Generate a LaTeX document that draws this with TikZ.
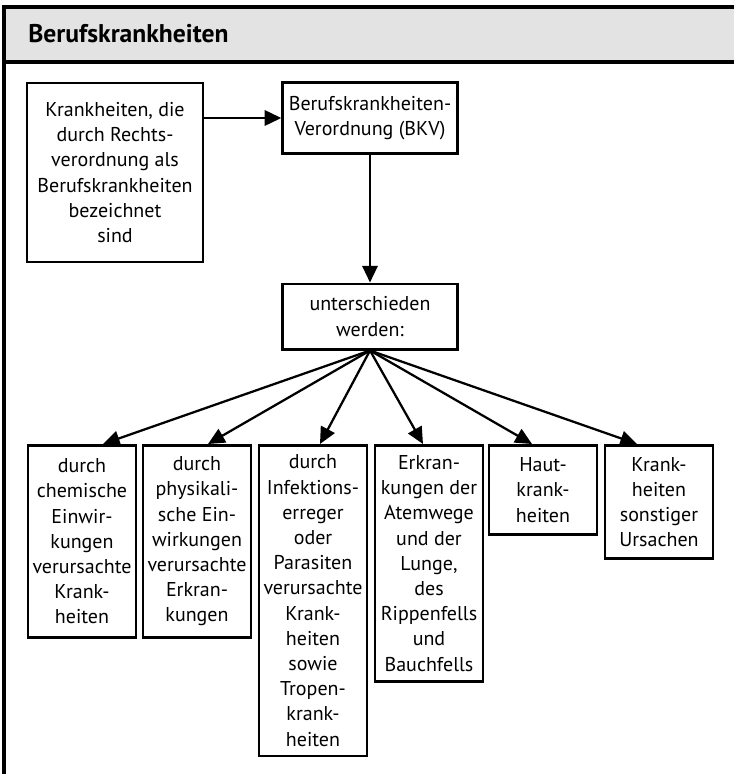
\documentclass[tikz,border=0pt]{standalone}
\usepackage{fontspec}
\setmainfont{PT Sans}
\usetikzlibrary{arrows.meta}

\begin{document}
\begin{tikzpicture}[x=.75pt,y=-.75pt,
    box/.style={draw,line width=2pt,align=center,inner xsep=2pt,
        font=\fontsize{15}{18.9}\selectfont},
    smallbox/.style={box,minimum width=81pt,anchor=north},
    arr/.style={line width=1.7pt,-{Triangle[length=12.5pt,width=11.5pt]}},
]

    \useasboundingbox (0,0) rectangle (734,774);

    % header
    \fill[black!11] (4,7) rectangle (734,62);
    \draw[line width=2.3pt] (4,774) -- (4,7) -- (734,7);
    \draw[line width=2.3pt] (4,62) -- (734,62);
    \node [anchor=base west,inner sep=0pt,font=\fontsize{19.2}{23}\selectfont\bfseries]
        (titel) at (28,43) {Berufskrankheiten};

    % top row
    \node [box,minimum width=132pt,minimum height=134pt] (krank) at (115,172.5)
        {Krankheiten, die\\durch Rechts-\\verordnung als\\Berufskrankheiten\\bezeichnet\\sind};
    \node [box,minimum width=131pt,minimum height=53pt] (bkv) at (370,118)
        {Berufskrankheiten-\\Verordnung (BKV)};
    \node [box,minimum width=131pt,minimum height=49pt] (unter) at (370,316.5)
        {unterschieden\\werden:};

    % bottom row
    \node [smallbox,minimum height=144pt] (chem) at (82,444)
        {durch\\chemische\\Einwir-\\kungen\\verursachte\\Krank-\\heiten};
    \node [smallbox,minimum height=144pt] (phys) at (197,444)
        {durch\\physikali-\\sche Ein-\\wirkungen\\verursachte\\Erkran-\\kungen};
    \node [smallbox,minimum height=233pt] (infekt) at (313,444)
        {durch\\Infektions-\\erreger\\oder\\Parasiten\\verursachte\\Krank-\\heiten\\sowie\\Tropen-\\krank-\\heiten};
    \node [smallbox,minimum height=177pt] (atem) at (429,444)
        {Erkran-\\kungen der\\Atemwege\\und der\\Lunge,\\des\\Rippenfells\\und\\Bauchfells};
    \node [smallbox,minimum height=67pt] (haut) at (543,444)
        {Haut-\\krank-\\heiten};
    \node [smallbox,minimum height=85pt] (sonst) at (659,444)
        {Krank-\\heiten\\sonstiger\\Ursachen};

    % arrows
    \draw[arr] (krank.east |- bkv.west) -- (bkv.west);
    \draw[arr] (bkv.south) -- (unter.north);
    \foreach \n/\dx in {chem/15.75pt,phys/8.25pt,infekt/5.25pt,
                        atem/-4.5pt,haut/-8.25pt,sonst/-16.5pt}
        \draw[arr] (unter.south) -- ([xshift=\dx]\n.north);

\end{tikzpicture}
\end{document}
